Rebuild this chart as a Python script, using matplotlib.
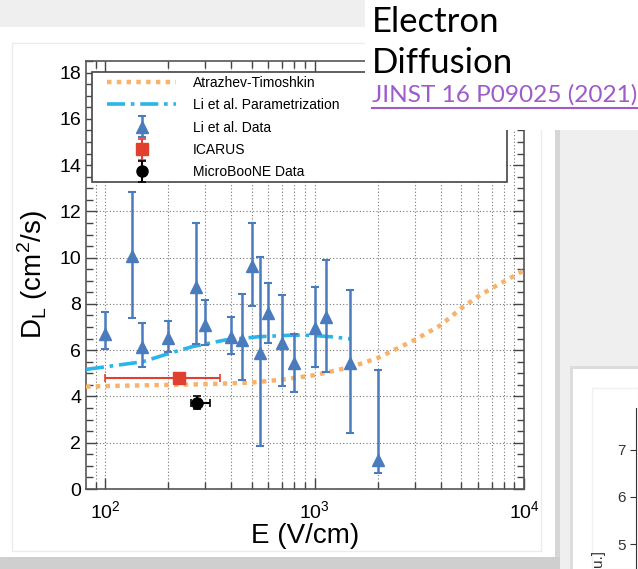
import numpy as np
import matplotlib.pyplot as plt
from matplotlib.patches import Rectangle
from matplotlib.legend_handler import HandlerErrorbar
from matplotlib.ticker import MultipleLocator, LogLocator, NullFormatter

plt.rcParams["font.family"] = ["Liberation Sans", "DejaVu Sans"]

# Li et al. data (E in V/cm, D_L in cm^2/s, lower/upper error bar ends)
li_E = [100, 135, 150, 200, 270, 300, 400, 450, 500, 550, 600, 700, 800, 1000, 1130, 1480, 2000]
li_D = [6.72, 10.05, 6.15, 6.54, 8.74, 7.08, 6.55, 6.44, 9.63, 5.86, 7.59, 6.29, 5.43, 6.94, 7.42, 5.46, 1.25]
li_lo = [6.03, 7.37, 5.27, 5.92, 6.25, 6.22, 5.82, 4.71, 7.90, 1.86, 6.29, 4.46, 4.19, 5.28, 5.07, 2.40, 0.68]
li_hi = [7.63, 12.84, 7.17, 7.27, 11.50, 8.15, 7.42, 8.41, 11.48, 10.04, 8.91, 8.38, 6.68, 8.73, 9.89, 8.60, 5.14]

# Atrazhev-Timoshkin curve
at_E = [81, 100, 150, 200, 300, 500, 700, 1000, 1500, 2000, 3000, 4000, 5000, 6000, 7000, 10000]
at_D = [4.42, 4.45, 4.48, 4.50, 4.53, 4.60, 4.73, 4.92, 5.28, 5.66, 6.44, 7.08, 7.80, 8.31, 8.67, 9.45]

# Li et al. parametrization
lp_E = [81, 100, 151, 202, 260, 374, 538, 780, 974, 1200, 1480]
lp_D = [5.17, 5.28, 5.50, 5.86, 6.15, 6.44, 6.58, 6.65, 6.64, 6.58, 6.49]

# ICARUS
ic_E = [226]
ic_D = [4.78]
ic_xlo, ic_xhi = [126], [127]
ic_yerr = [0.12]

# MicroBooNE
ub_E = [275]
ub_D = [3.73]
ub_xlo, ub_xhi = [19], [41]
ub_yerr = [0.27]

# second chart peeking in at the bottom right
side_ticks = [5, 6, 7]

W, H = 638, 569
fig = plt.figure(figsize=(W / 100, H / 100), dpi=100)
fig.patch.set_facecolor("#efefef")


def box(x0, y0, x1, y1, z=-5, **kw):
    # rectangle in pixel coords (top-left origin)
    fig.add_artist(Rectangle((x0 / W, 1 - y1 / H), (x1 - x0) / W, (y1 - y0) / H,
                             transform=fig.transFigure, zorder=z, **kw))


# slide panels
box(0, 555, 560, 569, facecolor="#cfcfcf", edgecolor="none")
box(0, 27, 557, 557, facecolor="white", edgecolor="none")
box(555, 27, 560, 557, facecolor="#d6d6d6", edgecolor="none")
box(12, 43, 541, 551, facecolor="none", edgecolor="#ececec", lw=1)
box(570, 366, 638, 569, facecolor="#dcdcdc", edgecolor="none")
box(573, 369, 638, 569, facecolor="white", edgecolor="none")
box(592, 388, 638, 569, facecolor="none", edgecolor="#f0f0f0", lw=1)

ax = fig.add_axes([86 / W, 1 - 489 / H, 438 / W, 428 / H])
ax.set_facecolor("white")

blue = "#4a7bbd"
ax.plot(at_E, at_D, ls=(0, (1, 1.2)), color="#f9b26c", lw=3.2, label="Atrazhev-Timoshkin", zorder=3)
ax.plot(lp_E, lp_D, ls=(0, (5, 1.6, 1, 1.6)), color="#2bb5e8", lw=2.6, label="Li et al. Parametrization", zorder=3)

li_err = [np.array(li_D) - np.array(li_lo), np.array(li_hi) - np.array(li_D)]
h_li = ax.errorbar(li_E, li_D, yerr=li_err, fmt="^", color=blue, ms=8.5, lw=1.8,
                   capsize=3, capthick=1.5, label="Li et al. Data", zorder=4)
h_ic = ax.errorbar(ic_E, ic_D, xerr=[ic_xlo, ic_xhi], yerr=ic_yerr, fmt="s", color="#e2402f",
                   ms=8, lw=1.5, capsize=3, capthick=1.2, label="ICARUS", zorder=5)
h_ub = ax.errorbar(ub_E, ub_D, xerr=[ub_xlo, ub_xhi], yerr=ub_yerr, fmt="o", color="black",
                   ms=8, lw=1.5, capsize=3, capthick=1.2, label="MicroBooNE Data", zorder=5)

ax.set_xscale("log")
ax.set_xlim(81, 10000)
ax.set_ylim(0, 18.5)
ax.yaxis.set_major_locator(MultipleLocator(2))
ax.yaxis.set_minor_locator(MultipleLocator(0.5))
ax.xaxis.set_major_locator(LogLocator(base=10))
ax.xaxis.set_minor_locator(LogLocator(base=10, subs=np.arange(2, 10)))
ax.xaxis.set_minor_formatter(NullFormatter())
ax.grid(True, which="major", ls=(0, (1, 2)), color="#777777", lw=0.8)
ax.grid(True, which="minor", axis="x", ls=(0, (1, 2)), color="#777777", lw=0.8)
ax.tick_params(which="both", direction="in", top=True, right=True, labelsize=14, width=1, color="#444444")
ax.tick_params(which="major", length=8)
ax.tick_params(which="minor", length=5)
ax.tick_params(axis="x", pad=8)
for s in ax.spines.values():
    s.set_color("#555555")
    s.set_linewidth(1.2)

ax.set_xlabel("E (V/cm)", fontsize=20, labelpad=1)
ax.set_ylabel(r"D$_\mathregular{L}$ (cm$^\mathregular{2}$/s)", fontsize=20, labelpad=7)

# legend frame drawn by hand so the inner padding can match the original
ax.add_patch(Rectangle((0.0137, 0.7173), 0.9475, 0.257, transform=ax.transAxes,
                       facecolor="white", edgecolor="#444444", lw=1.2, zorder=9))
leg = ax.legend(loc="upper left", bbox_to_anchor=(0.0479, 0.965), borderaxespad=0,
                fontsize=10, handlelength=5.0, handletextpad=1.2,
                labelspacing=0.6, borderpad=0, frameon=False,
                handler_map={h_li: HandlerErrorbar(xerr_size=0, yerr_size=0.75),
                             h_ic: HandlerErrorbar(xerr_size=0, yerr_size=0.75),
                             h_ub: HandlerErrorbar(xerr_size=0, yerr_size=0.75)})
leg.set_zorder(10)

# slide title box covering the top-right of the chart
box(365, 0, 638, 130, z=20, facecolor="white", edgecolor="none")
fig.text(372 / W, 1 - 32 / H, "Electron", fontsize=25, family="Lato", color="black", zorder=21)
fig.text(372 / W, 1 - 73 / H, "Diffusion", fontsize=25, family="Lato", color="black", zorder=21)
fig.text(372 / W, 1 - 102 / H, "JINST 16 P09025 (2021)", fontsize=17.6, family="Lato",
         color="#9e5bc9", zorder=21)
fig.add_artist(plt.Line2D([372 / W, 638 / W], [1 - 108 / H, 1 - 108 / H], transform=fig.transFigure,
                          color="#9e5bc9", lw=1.5, zorder=21))

# partial second chart
ax2 = fig.add_axes([636 / W, 0, 0.2, (569 - 408) / H])
ax2.patch.set_visible(False)
ax2.set_ylim(4.47, 7.89)
ax2.set_yticks(side_ticks)
ax2.set_xticks([])
for k in ["top", "right", "bottom"]:
    ax2.spines[k].set_visible(False)
ax2.spines["left"].set_color("#333333")
ax2.tick_params(axis="y", labelsize=11, length=4, color="#333333", labelcolor="#333333")
fig.text(591 / W, 2 / H, "u.]", rotation=90, fontsize=11, color="#333333", ha="left", va="bottom")

fig.savefig("out.png", dpi=100)
